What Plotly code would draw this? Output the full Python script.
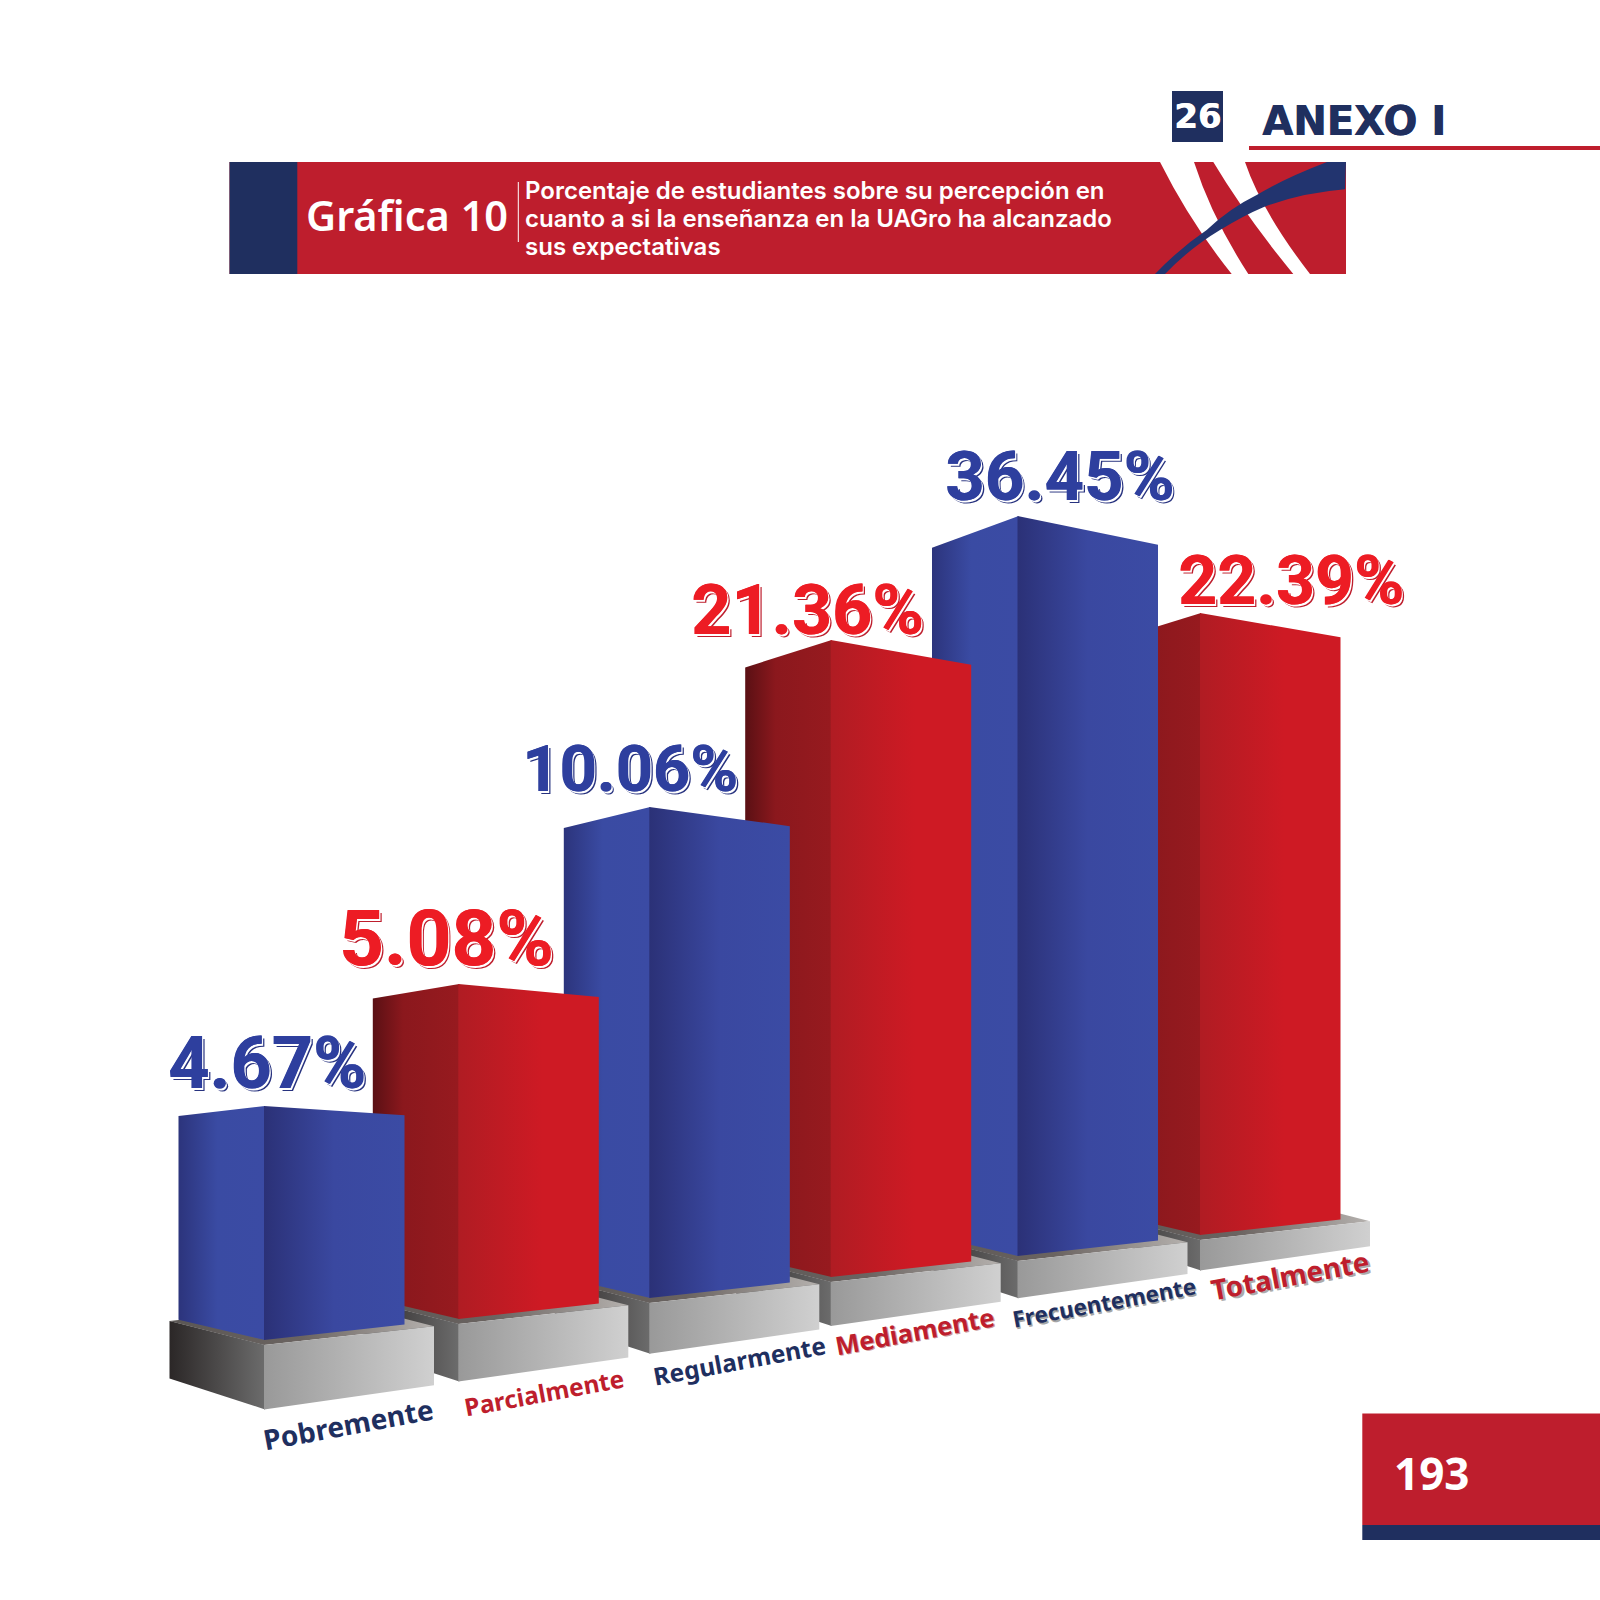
import numpy as np
import plotly.graph_objects as go

# Chart data
categories = ["Pobremente", "Parcialmente", "Regularmente", "Mediamente", "Frecuentemente", "Totalmente"]
percent_values = [4.67, 5.08, 10.06, 21.36, 36.45, 22.39]
# the drawn columns are not proportional to the percentages, so heights are read off the picture
column_heights = [234, 335, 491, 637, 740, 622]

NAVY = "#1f2f5f"
RED = "#be1e2d"

blue_side = [[0, "#2c347c"], [0.45, "#3a4ba3"], [1, "#3b4ba4"]]
blue_front = [[0, "#2b3177"], [0.5, "#3a48a0"], [1, "#3b4ba4"]]
red_side = [[0, "#5a1014"], [0.35, "#8b181d"], [1, "#971a1f"]]
red_front = [[0, "#b01c23"], [0.6, "#ce1a24"], [1, "#ce1a24"]]
base_side = [[0, "#2b2727"], [1, "#6c6c6c"]]
base_front = [[0, "#999999"], [1, "#d0d0d0"]]
base_top = [[0, "#5a5654"], [0.5, "#6b6461"], [1, "#b5b1ae"]]

# Layout of the fake 3D columns, page pixels
column_steps = [194.3, 191, 181.4, 186.8, 182.5]
corner_x = np.concatenate([[264], 264 + np.cumsum(column_steps)])
floor_y = [1340 - 21 * i for i in range(6)]
base_heights = [64.4 - 6.8 * i for i in range(6)]
side_w, front_w = 85.5, 140.5
base_side_w, base_front_w = 94.5, 170

label_dx = [3, -12, -19, -23, 41.5, 91]
label_rise = [43, 46, 38, 30, 40, 32]
label_sizes = [72, 78, 65, 70, 69, 68]
cat_pos = [(348, 1424), (544, 1392), (739, 1360), (914, 1331), (1104, 1302), (1290, 1275)]
cat_sizes = [28, 24.5, 24.5, 25.5, 22.5, 28]
cat_shadows = ["none", "none", "none", "1px 1px 0 #cc9a9a", "1px 2px 0 #a5a5a5", "2px 2px 0 #ababab"]

fig = go.Figure()


def face(xs, ys, scale):
    fig.add_trace(go.Scatter(
        x=xs, y=ys, mode="lines", fill="toself",
        line=dict(width=0),
        fillgradient=dict(type="horizontal", colorscale=scale),
        hoverinfo="skip", showlegend=False,
    ))


# back to front, each column hides the left side of the next one
for i in range(5, -1, -1):
    cx = corner_x[i]
    # pedestal
    lx, rx = cx - base_side_w, cx + base_front_w
    top = floor_y[i] + 5
    bot = top + base_heights[i]
    face([lx, cx, rx, lx + base_front_w], [top - 24, top, top - 18.7, top - 43], base_top)
    face([lx, cx + 1, cx + 1, lx], [top - 24, top, bot, bot - 31], base_side)
    face([cx, rx, rx, cx], [top, top - 18.7, bot - 24.2, bot], base_front)

    # column
    h = column_heights[i]
    y0 = floor_y[i]
    y1 = y0 - h
    side = blue_side if i % 2 == 0 else red_side
    front = blue_front if i % 2 == 0 else red_front
    face([cx - side_w, cx + 1, cx + 1, cx - side_w], [y1 + 0.043 * h, y1, y0, y0 - 20.3], side)
    face([cx, cx + front_w, cx + front_w, cx], [y1, y1 + 0.039 * h, y0 - 15.4, y0], front)

annotations = []

# value labels above the columns
for i, v in enumerate(percent_values):
    main, dark = ("#2e3f9e", "#27327f") if i % 2 == 0 else ("#ed1c24", "#be1e2d")
    annotations.append(dict(
        x=corner_x[i] + label_dx[i], y=floor_y[i] - column_heights[i] - label_rise[i],
        text=f"{v:.2f}%", showarrow=False,
        font=dict(family="Roboto", size=label_sizes[i], color=main, weight="bold",
                  shadow=f"0.6px 0 0 {main}, 1.8px 1.5px 0 #ffffff, 3px 2.5px 0 {dark}"),
    ))

# category labels under the pedestals
for i, c in enumerate(categories):
    annotations.append(dict(
        x=cat_pos[i][0], y=cat_pos[i][1], text=c, showarrow=False, textangle=-10.5,
        font=dict(family="Noto Sans", size=cat_sizes[i], weight="bold",
                  color=NAVY if i % 2 == 0 else RED, shadow=cat_shadows[i]),
    ))

# page furniture
title_lines = [
    "Porcentaje de estudiantes sobre su percepción en",
    "cuanto a si la enseñanza en la UAGro ha alcanzado",
    "sus expectativas",
]
for line, y in zip(title_lines, [190, 218, 246]):
    annotations.append(dict(
        x=524, y=y, xanchor="left", text=line, showarrow=False, borderpad=0,
        font=dict(family="Inter", size=24, color="white", weight=600),
    ))
annotations += [
    dict(x=304, y=215, xanchor="left", text="Gráfica 10", showarrow=False,
         font=dict(family="Noto Sans", size=41.5, color="white", weight=600)),
    dict(x=1197, y=116, text="26", showarrow=False,
         font=dict(family="DejaVu Sans", size=34, color="white", weight="bold",
                   shadow="0.7px 0 0 #ffffff")),
    dict(x=1260, y=121, xanchor="left", text="ANEXO I", showarrow=False,
         font=dict(family="DejaVu Sans", size=40, color=NAVY, weight="bold",
                   shadow=f"0.7px 0 0 {NAVY}")),
    dict(x=1432, y=1473, text="193", showarrow=False,
         font=dict(family="Noto Sans", size=44, color="white", weight="bold")),
]


def rect(x0, y0, x1, y1, color):
    return dict(type="rect", x0=x0, y0=y0, x1=x1, y1=y1, fillcolor=color, line=dict(width=0))


def path(d, color):
    return dict(type="path", path=d, fillcolor=color, line=dict(width=0))


shapes = [
    rect(229.5, 162, 1346, 274, RED),
    rect(229.5, 162, 297.3, 274, NAVY),
    rect(517.8, 182, 518.8, 242, "white"),
    rect(1172, 91, 1223, 142, NAVY),
    rect(1249, 146, 1600, 150, RED),
    rect(1362.3, 1413.5, 1600, 1525, RED),
    rect(1362.3, 1525, 1600, 1540, NAVY),
    path("M1160,162 Q1190,222 1231.7,274 L1248.3,274 Q1212,218 1194,162 Z", "white"),
    path("M1213.3,162 Q1245,215 1293.3,274 L1310,274 Q1262,212 1245,162 Z", "white"),
    path("M1155,274 Q1180,248 1206.7,230 Q1230,208 1256.7,195 Q1285,178 1327,162 L1346,162 "
         "L1345,189.3 Q1300,193 1263.3,207.3 Q1245,215 1220,230 Q1190,248 1165,274 Z", "#22346f"),
]

fig.update_layout(
    width=1600, height=1600,
    margin=dict(l=0, r=0, t=0, b=0),
    paper_bgcolor="white", plot_bgcolor="white",
    xaxis=dict(range=[0, 1600], visible=False, fixedrange=True),
    yaxis=dict(range=[1600, 0], visible=False, fixedrange=True),
    annotations=annotations,
    shapes=shapes,
)

# the browser's default 8px body margin would push the page off the grid
fig.write_html("out.html", config={"displayModeBar": False},
               post_script="document.body.style.margin = '0';")
